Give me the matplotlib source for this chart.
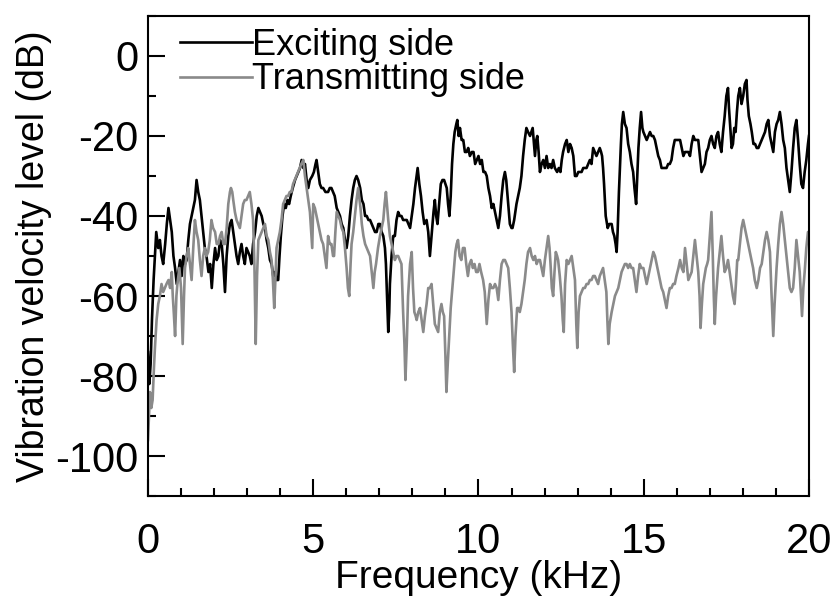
import matplotlib
matplotlib.use("Agg")
import matplotlib.pyplot as plt
from matplotlib.ticker import MultipleLocator

plt.rcParams['font.family'] = ['Liberation Sans', 'DejaVu Sans']
plt.rcParams['axes.unicode_minus'] = False

# Exciting side spectrum (kHz, dB)
freq_exc = [
    0.00, 0.04, 0.08, 0.12, 0.17, 0.21, 0.25, 0.31, 0.36, 0.41, 0.46, 0.52, 0.57, 0.62, 0.67, 0.72,
    0.77, 0.82, 0.87, 0.92, 0.97, 1.02, 1.07, 1.12, 1.17, 1.22, 1.27, 1.32, 1.37, 1.42, 1.47, 1.52,
    1.57, 1.62, 1.67, 1.72, 1.77, 1.83, 1.88, 1.93, 1.98, 2.03, 2.08, 2.13, 2.18, 2.23, 2.28, 2.33,
    2.38, 2.43, 2.48, 2.53, 2.58, 2.63, 2.68, 2.73, 2.78, 2.83, 2.88, 2.93, 2.98, 3.03, 3.08, 3.13,
    3.18, 3.24, 3.29, 3.34, 3.39, 3.44, 3.49, 3.54, 3.59, 3.64, 3.69, 3.74, 3.79, 3.84, 3.89, 3.94,
    3.98, 4.02, 4.07, 4.12, 4.17, 4.22, 4.27, 4.32, 4.38, 4.45, 4.50, 4.55, 4.60, 4.65, 4.70, 4.75,
    4.80, 4.85, 4.90, 4.97, 5.02, 5.07, 5.10, 5.15, 5.20, 5.25, 5.30, 5.37, 5.45, 5.50, 5.55, 5.60,
    5.65, 5.71, 5.76, 5.81, 5.86, 5.91, 5.96, 6.01, 6.06, 6.11, 6.16, 6.21, 6.26, 6.31, 6.36, 6.42,
    6.47, 6.52, 6.57, 6.62, 6.67, 6.72, 6.77, 6.82, 6.87, 6.92, 6.97, 7.02, 7.07, 7.12, 7.17, 7.20,
    7.24, 7.27, 7.30, 7.32, 7.37, 7.42, 7.47, 7.52, 7.57, 7.62, 7.67, 7.72, 7.78, 7.83, 7.88, 7.93,
    7.98, 8.03, 8.08, 8.13, 8.16, 8.21, 8.26, 8.31, 8.36, 8.43, 8.48, 8.53, 8.57, 8.60, 8.64, 8.68,
    8.72, 8.76, 8.81, 8.86, 8.91, 8.96, 9.00, 9.04, 9.08, 9.12, 9.16, 9.20, 9.24, 9.28, 9.33, 9.36,
    9.40, 9.44, 9.49, 9.54, 9.59, 9.64, 9.69, 9.74, 9.80, 9.85, 9.90, 9.95, 10.00, 10.05, 10.10, 10.15,
    10.20, 10.25, 10.30, 10.35, 10.40, 10.45, 10.50, 10.55, 10.60, 10.65, 10.70, 10.75, 10.80, 10.84, 10.87, 10.91,
    10.95, 11.00, 11.03, 11.08, 11.15, 11.20, 11.25, 11.30, 11.35, 11.40, 11.45, 11.50, 11.56, 11.60, 11.64, 11.68,
    11.71, 11.75, 11.78, 11.82, 11.86, 11.91, 11.96, 12.01, 12.06, 12.11, 12.16, 12.21, 12.26, 12.31, 12.38, 12.43,
    12.48, 12.52, 12.56, 12.62, 12.67, 12.72, 12.77, 12.82, 12.87, 12.92, 12.97, 13.02, 13.07, 13.12, 13.17, 13.22,
    13.27, 13.32, 13.37, 13.42, 13.47, 13.52, 13.57, 13.62, 13.67, 13.71, 13.74, 13.77, 13.80, 13.85, 13.91, 13.96,
    14.03, 14.07, 14.11, 14.15, 14.18, 14.21, 14.25, 14.28, 14.31, 14.34, 14.38, 14.43, 14.48, 14.53, 14.58, 14.63,
    14.68, 14.72, 14.77, 14.80, 14.84, 14.88, 14.92, 14.96, 14.99, 15.04, 15.09, 15.14, 15.19, 15.24, 15.29, 15.34,
    15.39, 15.44, 15.49, 15.54, 15.59, 15.64, 15.69, 15.74, 15.79, 15.84, 15.89, 15.94, 15.99, 16.05, 16.10, 16.15,
    16.20, 16.25, 16.30, 16.35, 16.40, 16.45, 16.50, 16.55, 16.60, 16.65, 16.70, 16.75, 16.80, 16.85, 16.90, 16.95,
    17.00, 17.05, 17.10, 17.15, 17.20, 17.25, 17.30, 17.35, 17.40, 17.45, 17.50, 17.55, 17.58, 17.62, 17.66, 17.70,
    17.74, 17.78, 17.82, 17.86, 17.91, 17.96, 18.01, 18.06, 18.11, 18.14, 18.18, 18.23, 18.27, 18.32, 18.37, 18.42,
    18.47, 18.52, 18.57, 18.62, 18.67, 18.72, 18.77, 18.82, 18.87, 18.92, 18.97, 19.02, 19.07, 19.12, 19.17, 19.22,
    19.27, 19.32, 19.37, 19.42, 19.47, 19.52, 19.57, 19.62, 19.67, 19.72, 19.77, 19.82, 19.87, 19.92, 19.97, 20.00,
]
level_exc = [
    -74, -82, -77, -66, -56, -50, -44, -48, -46, -50, -52, -47, -42, -38, -41, -44,
    -50, -53, -57, -54, -51, -55, -50, -52, -51, -46, -42, -40, -38, -36, -31, -34,
    -36, -40, -44, -48, -50, -54, -52, -58, -52, -48, -51, -50, -46, -47, -52, -59,
    -50, -45, -42, -41, -44, -47, -50, -52, -49, -47, -50, -52, -48, -49, -50, -52,
    -47, -44, -40, -38, -39, -40, -42, -43, -46, -48, -51, -52, -55, -54, -56, -56,
    -50, -45, -40, -37, -38, -36, -37, -35, -33, -31, -30, -29, -28, -26, -28, -27,
    -31, -33, -31, -30, -29, -27, -26, -29, -32, -33, -33, -34, -34, -33, -33, -34,
    -35, -38, -39, -40, -42, -43, -46, -48, -45, -40, -36, -33, -31, -30, -31, -33,
    -36, -37, -40, -40, -41, -41, -42, -43, -44, -44, -42, -42, -44, -45, -48, -52,
    -62, -69, -64, -57, -50, -45, -45, -41, -39, -40, -40, -41, -41, -41, -42, -43,
    -40, -37, -33, -30, -28, -32, -35, -39, -42, -41, -44, -50, -46, -43, -39, -36,
    -40, -42, -37, -32, -31, -31, -32, -33, -37, -40, -35, -27, -22, -19, -17, -16,
    -20, -18, -21, -21, -24, -24, -23, -25, -24, -24, -27, -26, -25, -27, -26, -29,
    -29, -30, -33, -35, -38, -37, -39, -41, -43, -40, -35, -31, -29, -31, -34, -38,
    -42, -43, -43, -41, -37, -35, -33, -30, -25, -21, -18, -19, -20, -19, -18, -22,
    -25, -21, -20, -24, -29, -27, -26, -28, -25, -28, -27, -28, -26, -28, -29, -28,
    -29, -26, -24, -22, -21, -24, -22, -23, -25, -30, -30, -29, -29, -29, -28, -28,
    -28, -27, -26, -27, -23, -24, -25, -24, -23, -24, -25, -28, -32, -40, -43, -42,
    -42, -44, -45, -47, -49, -44, -34, -28, -22, -17, -14, -17, -18, -22, -24, -27,
    -29, -33, -37, -31, -23, -18, -14, -18, -19, -20, -21, -20, -19, -20, -20, -21,
    -23, -25, -26, -28, -28, -28, -28, -27, -27, -26, -23, -21, -21, -21, -21, -23,
    -25, -24, -24, -24, -25, -22, -20, -21, -21, -21, -25, -29, -28, -27, -24, -23,
    -21, -20, -22, -23, -20, -19, -22, -24, -19, -15, -10, -8, -13, -18, -23, -22,
    -18, -19, -14, -10, -8, -12, -10, -7, -6, -11, -15, -17, -19, -22, -22, -23,
    -23, -22, -21, -20, -19, -17, -16, -20, -22, -24, -19, -17, -16, -14, -17, -21,
    -23, -28, -31, -34, -29, -23, -18, -16, -21, -27, -32, -33, -29, -26, -22, -20,
]

# Transmitting side spectrum (kHz, dB)
freq_trn = [
    0.00, 0.03, 0.06, 0.10, 0.14, 0.18, 0.21, 0.26, 0.31, 0.36, 0.41, 0.46, 0.51, 0.56, 0.62, 0.67,
    0.72, 0.75, 0.78, 0.82, 0.86, 0.89, 0.95, 1.00, 1.05, 1.09, 1.12, 1.17, 1.22, 1.27, 1.32, 1.37,
    1.42, 1.47, 1.52, 1.57, 1.62, 1.67, 1.72, 1.77, 1.82, 1.87, 1.92, 1.97, 2.03, 2.08, 2.13, 2.18,
    2.23, 2.28, 2.33, 2.38, 2.43, 2.48, 2.51, 2.55, 2.58, 2.63, 2.68, 2.73, 2.78, 2.83, 2.88, 2.93,
    2.98, 3.03, 3.08, 3.13, 3.18, 3.22, 3.26, 3.30, 3.34, 3.39, 3.44, 3.49, 3.54, 3.59, 3.64, 3.69,
    3.74, 3.78, 3.82, 3.86, 3.89, 3.94, 3.99, 4.04, 4.09, 4.14, 4.19, 4.24, 4.29, 4.34, 4.39, 4.44,
    4.49, 4.54, 4.59, 4.64, 4.70, 4.75, 4.80, 4.85, 4.90, 4.94, 4.97, 5.00, 5.05, 5.10, 5.15, 5.20,
    5.25, 5.30, 5.35, 5.40, 5.45, 5.50, 5.55, 5.60, 5.63, 5.67, 5.71, 5.76, 5.81, 5.86, 5.91, 5.96,
    6.01, 6.05, 6.09, 6.13, 6.16, 6.21, 6.26, 6.31, 6.36, 6.40, 6.43, 6.47, 6.52, 6.57, 6.62, 6.67,
    6.72, 6.77, 6.82, 6.86, 6.90, 6.96, 7.02, 7.07, 7.12, 7.16, 7.20, 7.24, 7.27, 7.32, 7.37, 7.42,
    7.47, 7.52, 7.57, 7.62, 7.67, 7.72, 7.76, 7.79, 7.83, 7.87, 7.93, 7.98, 8.02, 8.06, 8.10, 8.13,
    8.18, 8.23, 8.28, 8.33, 8.38, 8.43, 8.48, 8.53, 8.58, 8.63, 8.68, 8.73, 8.78, 8.83, 8.88, 8.92,
    8.96, 9.00, 9.03, 9.07, 9.12, 9.16, 9.20, 9.25, 9.30, 9.34, 9.38, 9.43, 9.48, 9.53, 9.58, 9.63,
    9.68, 9.73, 9.78, 9.83, 9.88, 9.93, 9.98, 10.03, 10.08, 10.14, 10.19, 10.25, 10.30, 10.35, 10.40, 10.45,
    10.50, 10.55, 10.60, 10.65, 10.70, 10.75, 10.80, 10.85, 10.90, 10.95, 11.00, 11.04, 11.08, 11.12, 11.17, 11.21,
    11.25, 11.30, 11.35, 11.40, 11.45, 11.50, 11.56, 11.61, 11.66, 11.71, 11.76, 11.81, 11.86, 11.91, 11.96, 12.01,
    12.06, 12.11, 12.15, 12.18, 12.22, 12.26, 12.30, 12.34, 12.38, 12.41, 12.46, 12.51, 12.55, 12.58, 12.62, 12.67,
    12.72, 12.77, 12.82, 12.87, 12.92, 12.96, 12.99, 13.03, 13.07, 13.12, 13.17, 13.22, 13.27, 13.32, 13.37, 13.42,
    13.47, 13.52, 13.57, 13.62, 13.67, 13.72, 13.77, 13.82, 13.87, 13.90, 13.93, 13.97, 14.03, 14.08, 14.13, 14.18,
    14.23, 14.28, 14.33, 14.38, 14.43, 14.48, 14.53, 14.58, 14.63, 14.68, 14.73, 14.78, 14.83, 14.88, 14.93, 14.99,
    15.04, 15.09, 15.14, 15.19, 15.24, 15.29, 15.34, 15.39, 15.44, 15.49, 15.54, 15.59, 15.64, 15.69, 15.74, 15.79,
    15.84, 15.89, 15.94, 15.99, 16.05, 16.10, 16.15, 16.20, 16.25, 16.30, 16.35, 16.40, 16.45, 16.50, 16.55, 16.60,
    16.65, 16.69, 16.72, 16.76, 16.80, 16.84, 16.88, 16.92, 16.95, 17.00, 17.05, 17.09, 17.12, 17.15, 17.19, 17.25,
    17.30, 17.35, 17.40, 17.45, 17.50, 17.55, 17.60, 17.65, 17.70, 17.75, 17.79, 17.83, 17.86, 17.91, 17.96, 18.01,
    18.06, 18.11, 18.16, 18.21, 18.26, 18.31, 18.36, 18.42, 18.47, 18.52, 18.57, 18.62, 18.67, 18.72, 18.77, 18.82,
    18.86, 18.90, 18.92, 18.96, 19.02, 19.07, 19.12, 19.17, 19.22, 19.27, 19.32, 19.37, 19.42, 19.47, 19.52, 19.57,
    19.62, 19.67, 19.72, 19.76, 19.79, 19.83, 19.87, 19.92, 19.97, 20.00,
]
level_trn = [
    -96, -90, -84, -88, -86, -78, -73, -66, -62, -60, -57, -59, -58, -57, -56, -58,
    -54, -60, -64, -70, -60, -57, -53, -58, -72, -60, -53, -50, -48, -52, -56, -48,
    -41, -44, -46, -51, -55, -50, -48, -50, -49, -46, -41, -43, -44, -47, -47, -45,
    -44, -47, -47, -43, -37, -34, -33, -34, -36, -39, -41, -42, -43, -40, -37, -36,
    -36, -35, -34, -37, -41, -52, -72, -55, -46, -45, -44, -43, -42, -45, -46, -49,
    -51, -56, -63, -55, -48, -46, -44, -41, -37, -36, -35, -35, -34, -34, -32, -31,
    -30, -29, -28, -27, -26, -30, -33, -36, -39, -44, -48, -37, -38, -40, -42, -44,
    -46, -47, -50, -53, -45, -47, -47, -50, -50, -44, -39, -40, -41, -43, -44, -48,
    -53, -58, -60, -52, -47, -44, -40, -36, -33, -36, -38, -42, -45, -47, -48, -49,
    -50, -54, -58, -54, -52, -48, -45, -43, -41, -37, -34, -38, -41, -45, -47, -49,
    -51, -50, -50, -51, -52, -64, -72, -81, -72, -60, -52, -49, -58, -64, -65, -66,
    -64, -63, -66, -69, -65, -62, -58, -58, -57, -62, -67, -68, -69, -64, -62, -64,
    -65, -75, -84, -77, -69, -63, -59, -54, -49, -47, -46, -50, -51, -48, -48, -52,
    -55, -52, -51, -53, -52, -54, -54, -52, -54, -56, -59, -67, -61, -57, -58, -58,
    -57, -58, -61, -56, -52, -51, -51, -52, -53, -58, -64, -72, -79, -70, -63, -63,
    -64, -62, -59, -56, -52, -49, -48, -50, -51, -50, -52, -51, -51, -53, -55, -51,
    -48, -45, -48, -52, -58, -60, -54, -49, -50, -51, -55, -60, -66, -69, -57, -51,
    -52, -51, -50, -53, -56, -67, -73, -64, -60, -59, -58, -58, -57, -57, -56, -56,
    -55, -55, -56, -57, -55, -54, -53, -56, -59, -66, -72, -67, -64, -62, -60, -59,
    -58, -56, -54, -53, -52, -52, -53, -52, -53, -53, -56, -59, -55, -52, -53, -53,
    -55, -57, -55, -53, -51, -49, -50, -52, -54, -56, -58, -59, -61, -63, -60, -58,
    -58, -57, -57, -55, -53, -51, -53, -54, -48, -52, -56, -55, -54, -50, -46, -50,
    -54, -60, -68, -62, -57, -55, -53, -52, -51, -45, -39, -50, -60, -67, -60, -53,
    -49, -45, -50, -54, -53, -51, -54, -57, -60, -62, -57, -51, -51, -47, -43, -41,
    -43, -45, -47, -49, -51, -53, -56, -58, -56, -53, -52, -49, -46, -44, -46, -49,
    -58, -66, -70, -62, -53, -47, -42, -39, -42, -46, -50, -54, -58, -59, -58, -53,
    -46, -50, -54, -60, -65, -58, -54, -48, -44, -44,
]

fig = plt.figure(figsize=(8.37, 6.03), dpi=100)
ax = fig.add_axes([0.1768, 0.1774, 0.7897, 0.7961])

ax.plot(freq_exc, level_exc, color='black', lw=1.9, label='Exciting side')
ax.plot(freq_trn, level_trn, color='#8a8a8a', lw=1.9, label='Transmitting side')

ax.set_xlim(0, 20)
ax.set_ylim(-110, 10)
ax.xaxis.set_major_locator(MultipleLocator(5))
ax.xaxis.set_minor_locator(MultipleLocator(1))
ax.yaxis.set_major_locator(MultipleLocator(20))
ax.yaxis.set_minor_locator(MultipleLocator(10))

ax.tick_params(which='both', direction='in', top=False, right=False, width=1.5)
ax.tick_params(which='major', length=12)
ax.tick_params(which='minor', length=6)
ax.tick_params(axis='x', labelsize=30, pad=19)
ax.tick_params(axis='y', labelsize=30, pad=7)
for sp in ax.spines.values():
    sp.set_linewidth(1.5)

ax.set_xlabel('Frequency (kHz)', fontsize=28, labelpad=-2)
ax.set_ylabel('Vibration velocity level (dB)', fontsize=27, labelpad=2)

leg = ax.legend(loc='upper left', bbox_to_anchor=(0.048, 0.975), frameon=False,
                fontsize=26, handlelength=2.0, handletextpad=0.0,
                labelspacing=-0.02, borderpad=0, borderaxespad=0)
for h in leg.get_lines():
    h.set_linewidth(1.9)

fig.savefig('out.png', dpi=100)
